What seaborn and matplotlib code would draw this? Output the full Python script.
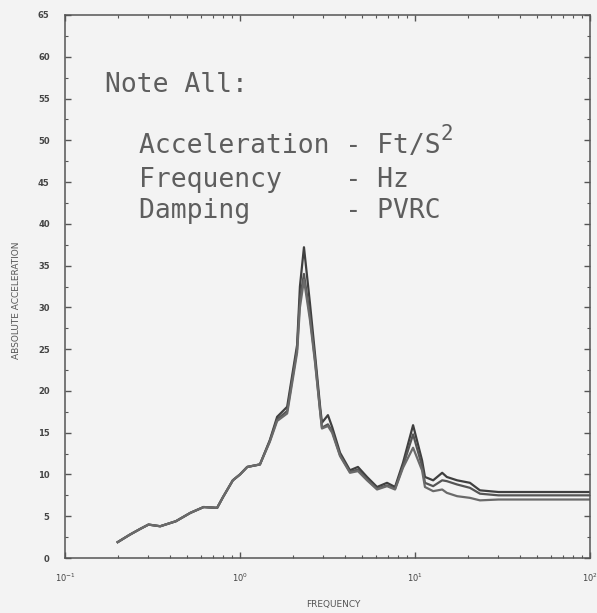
import numpy as np
import pandas as pd
import matplotlib
matplotlib.use("Agg")
import matplotlib.pyplot as plt
import matplotlib.ticker as mticker
import seaborn as sns

# ---- data ----
freq = [0.20, 0.235, 0.27, 0.30, 0.35, 0.43, 0.52, 0.62, 0.74, 0.80, 0.91, 1.0, 1.1, 1.3,
        1.48, 1.63, 1.86, 2.01, 2.12, 2.20, 2.32, 2.51, 2.68, 2.87, 2.94, 3.18, 3.36, 3.73,
        4.25, 4.72, 5.32, 6.07, 6.92, 7.69, 8.54, 9.75, 10.97, 11.4, 12.7, 14.3, 15.2,
        17.4, 20.6, 23.5, 30.0, 50.0, 100.0]
accel_a = [1.9, 2.8, 3.5, 4.0, 3.8, 4.4, 5.4, 6.1, 6.0, 7.3, 9.3, 10.0, 10.9, 11.2,
           14.1, 16.9, 18.1, 22.5, 25.5, 32.5, 37.2, 30.5, 24.5, 18.1, 16.2, 17.1, 15.7, 12.6,
           10.5, 10.9, 9.7, 8.5, 9.0, 8.5, 11.4, 15.9, 11.7, 9.7, 9.3, 10.2, 9.7,
           9.3, 9.0, 8.1, 7.9, 7.9, 7.9]
accel_b = [1.9, 2.8, 3.5, 4.0, 3.8, 4.4, 5.4, 6.1, 6.0, 7.3, 9.3, 10.0, 10.9, 11.2,
           14.0, 16.6, 17.6, 22.0, 25.0, 31.0, 34.0, 29.0, 23.8, 17.6, 15.6, 16.0, 15.2, 12.3,
           10.3, 10.6, 9.4, 8.3, 8.7, 8.3, 11.0, 14.8, 11.0, 9.0, 8.6, 9.3, 9.2,
           8.8, 8.4, 7.7, 7.5, 7.5, 7.5]
accel_c = [1.9, 2.8, 3.5, 4.0, 3.8, 4.4, 5.4, 6.1, 6.0, 7.3, 9.3, 10.0, 10.9, 11.2,
           13.9, 16.4, 17.3, 21.6, 24.6, 30.0, 33.3, 28.5, 23.5, 17.5, 15.5, 15.8, 15.0, 12.2,
           10.2, 10.4, 9.3, 8.2, 8.6, 8.2, 10.8, 13.2, 10.5, 8.5, 8.0, 8.2, 7.8,
           7.4, 7.2, 6.9, 7.0, 7.0, 7.0]
series_names = ["A", "B", "C"]

y_ticks = list(range(0, 70, 5))
x_ticks = [0.1, 1, 10, 100]

note_title = "Note All:"
note_lines = ["Acceleration - Ft/S", "Frequency    - Hz", "Damping      - PVRC"]

df = pd.concat([
    pd.DataFrame({"freq": freq, "accel": vals, "series": name})
    for name, vals in zip(series_names, [accel_a, accel_b, accel_c])
], ignore_index=True)

# ---- figure ----
bg = "#f3f3f3"
fig = plt.figure(figsize=(5.97, 6.13), dpi=100, facecolor=bg)
ax = fig.add_axes([65 / 597, 1 - 558 / 613, (590 - 65) / 597, (558 - 15) / 613])
ax.set_facecolor(bg)

sns.lineplot(data=df, x="freq", y="accel", hue="series", units="series", estimator=None,
             palette=["#3f3f3f", "#555555", "#6a6a6a"], linewidth=1.6, legend=False,
             sort=True, ax=ax)

ax.set_xscale("log")
ax.set_xlim(0.1, 100)
ax.set_ylim(0, 65)
ax.set_xlabel("")
ax.set_ylabel("")

ax.set_yticks(y_ticks)
ax.yaxis.set_minor_locator(mticker.MultipleLocator(2.5))
ax.set_xticks(x_ticks)
ax.xaxis.set_major_formatter(mticker.LogFormatterSciNotation())
ax.xaxis.set_minor_locator(mticker.LogLocator(base=10, subs=np.arange(2, 10)))

for s in ax.spines.values():
    s.set_color("#555555")
    s.set_linewidth(1.1)

ax.tick_params(which="both", direction="in", top=True, right=True, color="#555555")
ax.tick_params(which="major", length=4, width=1)
ax.tick_params(which="minor", length=2.5, width=0.8)
ax.tick_params(axis="y", which="major", labelsize=6, pad=11, labelcolor="#444444")
ax.tick_params(axis="x", which="major", labelsize=6, pad=10, labelcolor="#444444")
for lab in ax.get_yticklabels():
    lab.set_fontweight("bold")

# axis titles
fig.text(17 / 597, 1 - 300 / 613, "ABSOLUTE ACCELERATION", rotation=90, ha="center",
         va="center", fontsize=6.5, color="#555555")
fig.text(333 / 597, 1 - 605 / 613, "FREQUENCY", ha="center", va="center",
         fontsize=6.5, color="#555555")

# note block
mono = "DejaVu Sans Mono"
txt_color = "#5e5e5e"
fig.text(105 / 597, 1 - 92 / 613, note_title, family=mono, fontsize=19, color=txt_color,
         ha="left", va="baseline")
baselines = [153, 187, 218]
for line, yb in zip(note_lines, baselines):
    fig.text(139 / 597, 1 - yb / 613, line, family=mono, fontsize=19, color=txt_color,
             ha="left", va="baseline")
fig.text(440 / 597, 1 - 140 / 613, "2", family=mono, fontsize=15, color=txt_color,
         ha="left", va="baseline")

fig.savefig("out.png", dpi=100, facecolor=bg)
